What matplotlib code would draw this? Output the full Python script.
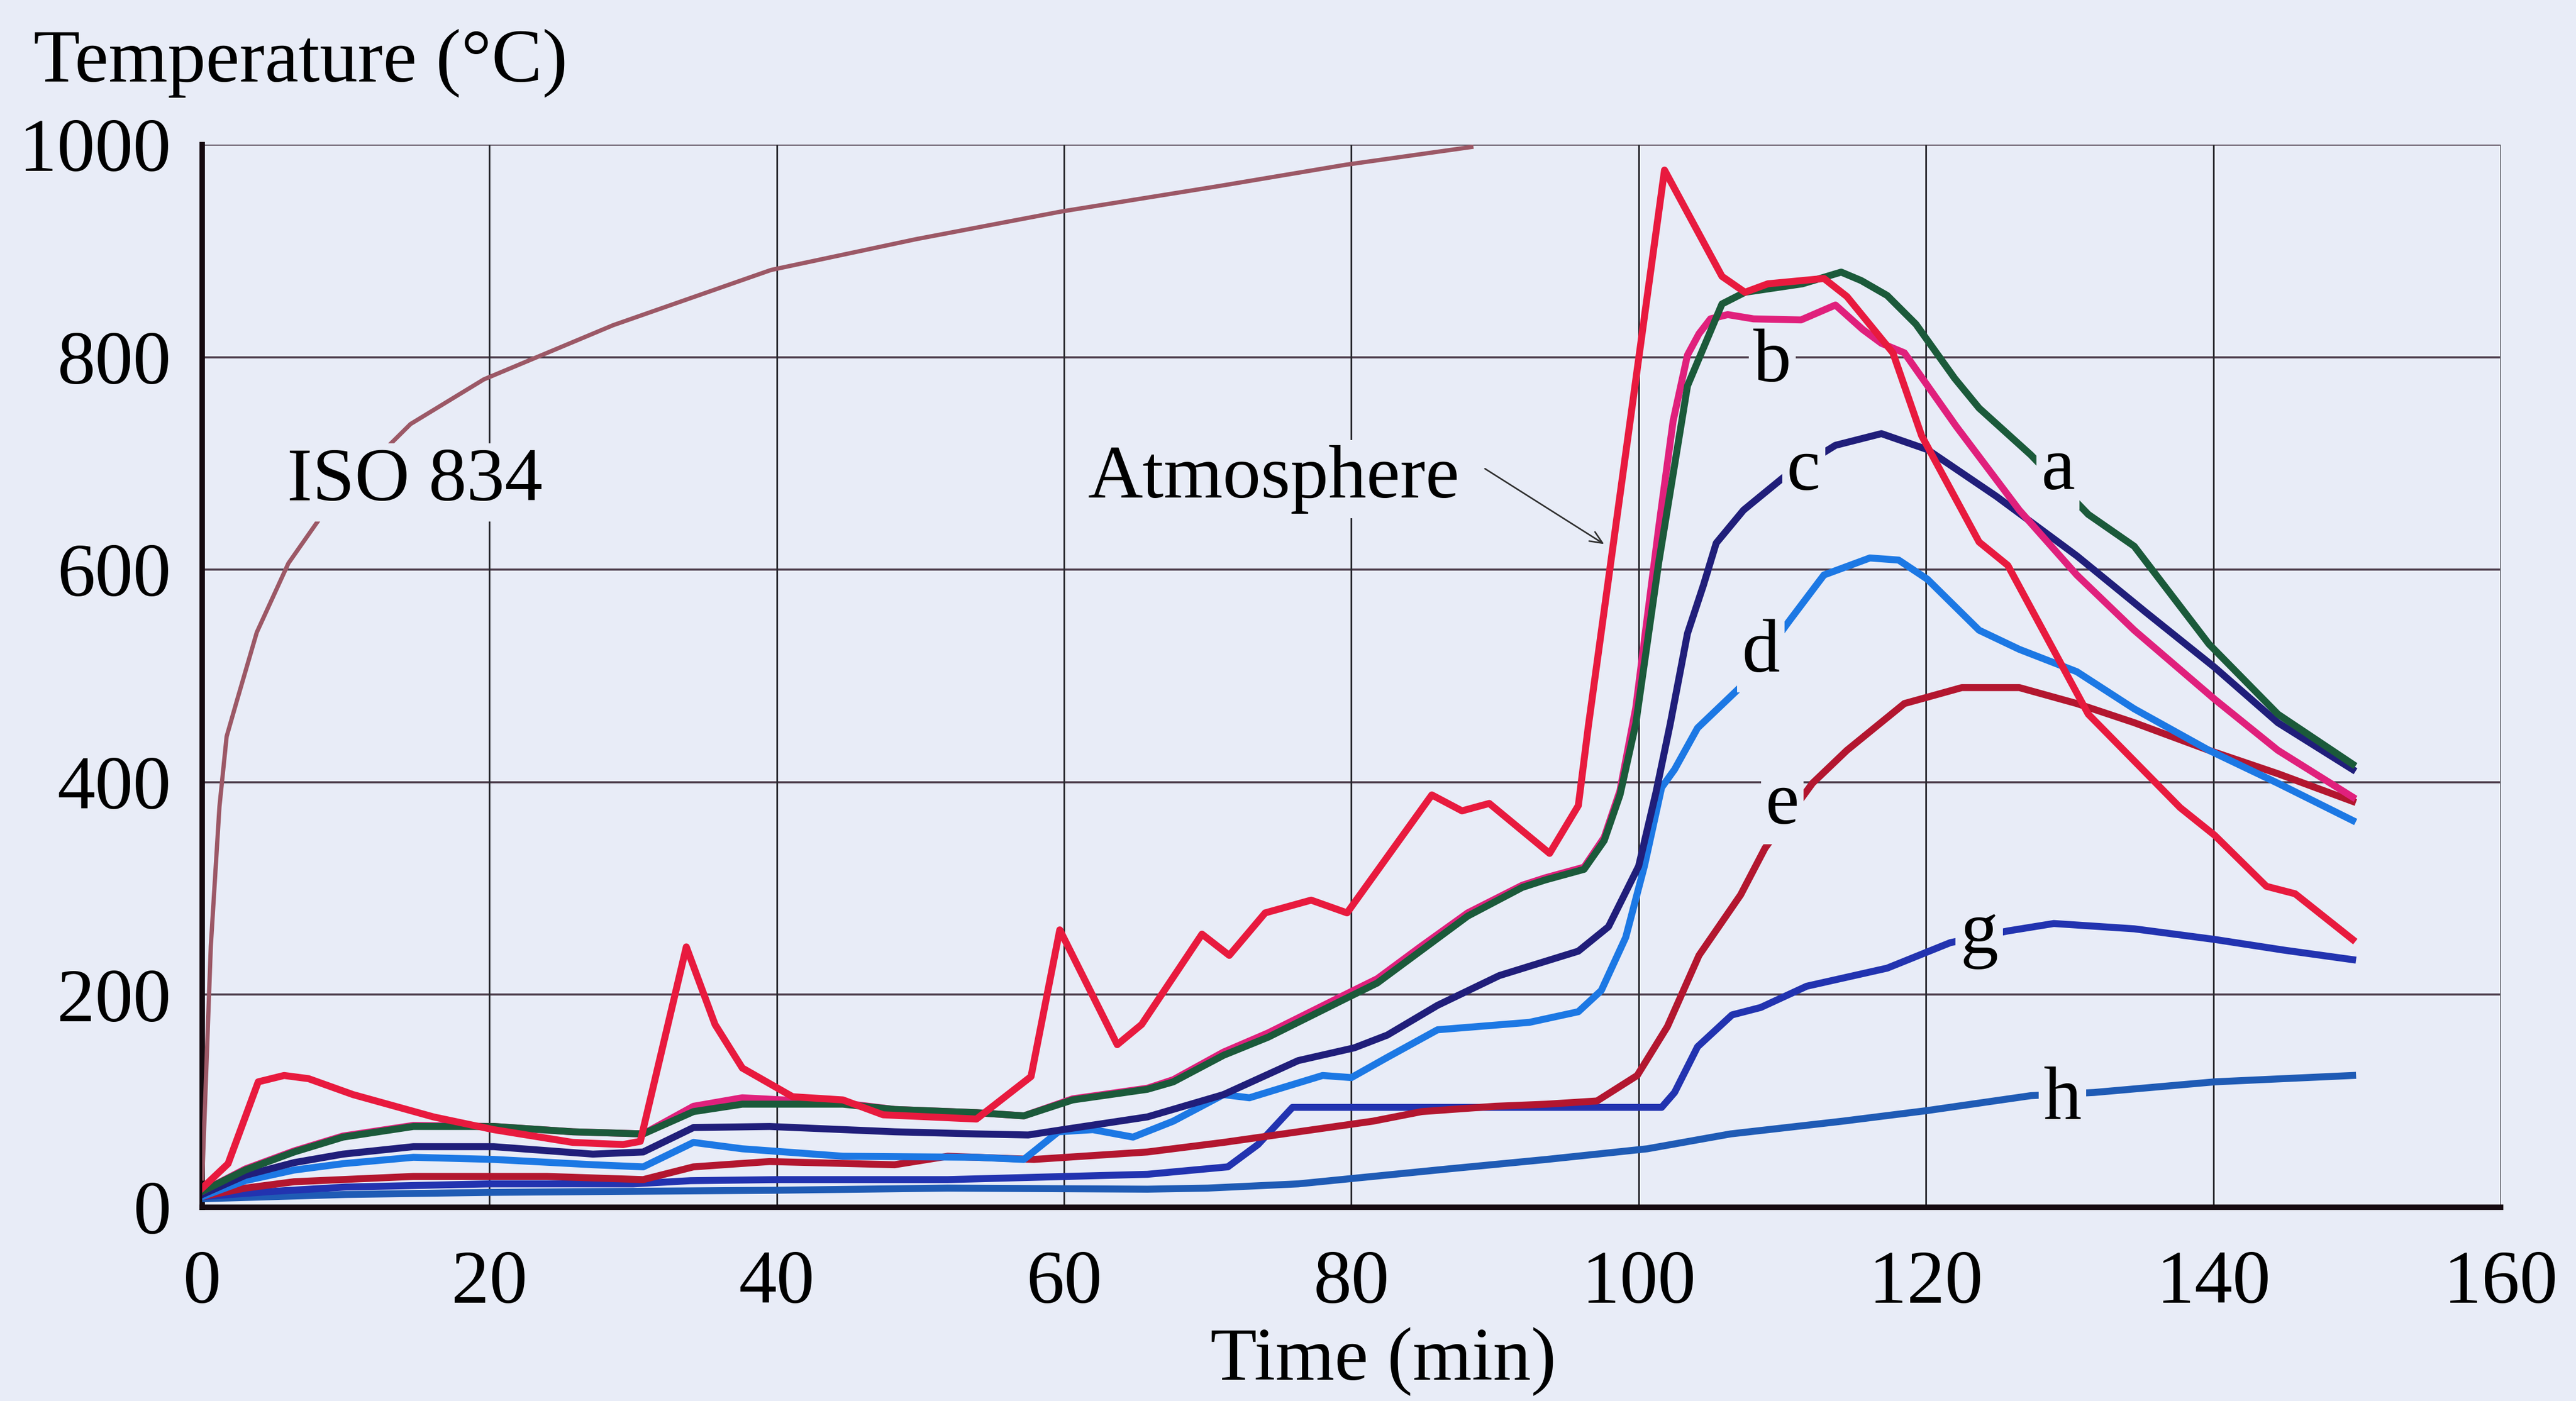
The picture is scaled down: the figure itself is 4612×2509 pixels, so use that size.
import matplotlib
matplotlib.use("Agg")
import matplotlib.pyplot as plt

# ---------------- data ----------------
iso_t = [0, 0.6, 1.2, 1.7, 2.4, 3.8, 6, 8.9, 14.5, 19.6, 28.6, 39.6, 49.7, 59.8, 70.8, 79.6, 88.5]
iso_T = [25, 246, 377, 443, 476, 541, 606, 662, 737, 779, 830, 882, 911, 937, 961, 981, 998]

atm_t = [0, 1.8, 3.9, 5.7, 7.4, 10.5, 16.1, 20.3, 25.8, 29.3, 30.5, 33.7, 35.7, 37.6, 41.1, 44.6,
         47.4, 53.9, 57.7, 59.7, 63.7, 65.4, 69.6, 71.5, 74, 77.2, 79.7, 85.6, 87.7, 89.6, 93.8,
         95.8, 96.5, 101.8, 105.8, 107.4, 109, 112.9, 114.5, 117.7, 119.7, 123.7, 125.7, 131.3,
         134.5, 137.7, 140.1, 143.7, 145.7, 149.7]
atm_T = [18, 41, 118, 124, 121, 106, 85, 73, 61, 59, 62, 245, 172, 131, 104, 101,
         87, 83, 123, 261, 153, 172, 257, 237, 277, 289, 277, 388, 373, 380, 333,
         378, 453, 976, 876, 861, 869, 874, 857, 804, 726, 626, 604, 464,
         420, 376, 350, 302, 295, 252]

a_t = [0, 3, 6.4, 9.8, 14.7, 20.3, 25.8, 30.7, 34.2, 37.6, 44.6, 48.2, 53.9, 57.2, 60.6, 65.8,
       67.6, 71.1, 74.2, 79.7, 81.8, 84.8, 88.1, 91.9, 93.5, 96.2, 97.6, 98.7, 99.8, 101.4,
       103.4, 105.8, 107.4, 111.4, 114.1, 115.5, 117.3, 119.3, 122, 123.7, 127.3, 131.3,
       134.5, 139.7, 144.5, 149.7]
a_T = [15, 35, 52, 66, 76, 76, 71, 69, 90, 97, 97, 92, 89, 86, 101, 111,
       118, 143, 160, 197, 211, 241, 274, 301, 308, 318, 345, 388, 455, 607,
       773, 850, 861, 869, 880, 872, 858, 831, 780, 752, 708, 652,
       622, 530, 464, 417]

b_t = [0, 3, 6.4, 9.8, 14.7, 20.3, 25.8, 30.7, 34.2, 37.6, 44.6, 48.2, 53.9, 57.2, 60.6, 65.8,
       67.6, 71.1, 74.2, 79.7, 81.8, 84.8, 88.1, 91.9, 93.5, 96.2, 97.6, 98.7, 99.8, 101.4,
       102.4, 103.4, 104.2, 105, 106.2, 108, 111.3, 113.7, 115.6, 116.9, 118.5, 122.1,
       126.5, 130.5, 134.5, 140.1, 144.5, 149.7]
b_T = [15, 36, 53, 67, 77, 76, 71, 69, 95, 103, 98, 92, 89, 86, 102, 112,
       120, 146, 164, 201, 215, 245, 277, 303, 310, 320, 348, 392, 470, 640,
       740, 802, 822, 836, 840, 836, 835, 849, 826, 813, 804, 735,
       656, 595, 543, 478, 430, 386]

c_t = [0, 3, 6.4, 9.8, 14.7, 20.3, 27.2, 30.7, 34.2, 39.5, 48.2, 53.9, 57.5, 59.9, 65.8, 71.1,
       76.3, 80.2, 82.5, 86, 90.3, 95.8, 97.9, 100, 101.2, 102.2, 103.4, 104.5, 105.4, 107.3,
       108.2, 110.1, 113.7, 116.9, 120.1, 124.9, 130.5, 135.3, 140.1, 144.5, 149.7]
c_T = [12, 30, 42, 50, 57, 57, 50, 52, 75, 76, 71, 69, 68, 73, 85, 106,
       138, 150, 162, 190, 218, 241, 264, 321, 390, 455, 540, 585, 625, 656,
       666, 687, 717, 728, 713, 669, 613, 560, 508, 456, 412]

d_t = [0, 3, 6.4, 9.8, 14.7, 20.3, 27.2, 30.7, 34.2, 37.6, 44.6, 53.9, 57.2, 59.6, 62, 64.8,
       67.6, 71.1, 72.9, 78, 80, 82.5, 86, 92.4, 95.8, 97.4, 99.1, 100.4, 101.6, 102.5, 104.1,
       107.2, 110.5, 112.9, 116.1, 118.1, 120.1, 123.7, 126.5, 130.5, 134.5, 139.7, 144.5, 149.7]
d_T = [10, 25, 35, 41, 47, 45, 40, 38, 61, 55, 48, 47, 45, 71, 73, 66,
       81, 106, 103, 124, 122, 141, 167, 174, 184, 204, 254, 321, 395, 412, 451,
       491, 552, 595, 611, 609, 591, 543, 525, 504, 469, 430, 399, 364]

e_t = [0, 3, 6.4, 14.7, 24, 30.7, 34.2, 39.5, 48.2, 51.9, 57.9, 65.8, 71.1, 76.3, 81.5, 84.9,
       90, 93.6, 97.1, 99.9, 102, 104.2, 107.1, 108.8, 112.1, 114.5, 118.5, 122.5, 126.5,
       130.5, 134.5, 139.7, 144.5, 149.7]
e_T = [10, 18, 24, 29, 29, 26, 38, 43, 40, 48, 45, 52, 61, 71, 81, 90,
       95, 97, 100, 124, 170, 237, 294, 338, 399, 430, 474, 489, 489,
       474, 456, 430, 408, 382]

g_t = [0, 5, 10, 20, 30, 34, 40, 51.9, 65.8, 71.4, 73.5, 75.9, 86, 95, 101.6, 102.5, 104.1,
       106.5, 108.5, 111.7, 117.3, 121.7, 125.7, 128.9, 134.5, 140.1, 144.9, 149.7]
g_T = [10, 15, 19, 22, 22, 25, 26, 26, 31, 38, 59, 94, 94, 94, 94, 108, 151,
       181, 188, 208, 225, 249, 260, 267, 262, 252, 242, 233]

h_t = [0, 10, 20, 30, 40, 51.9, 65.8, 70, 76.3, 81.5, 86.7, 93.6, 100.6, 106.4, 114.2, 120.1,
       127.3, 131.7, 140.1, 149.7]
h_T = [8, 12, 14, 15, 16, 18, 17, 18, 22, 29, 36, 45, 55, 69, 81, 91,
       105, 108, 118, 124]

x_ticks = [0, 20, 40, 60, 80, 100, 120, 140, 160]
y_ticks = [0, 200, 400, 600, 800, 1000]

# ---------------- styling ----------------
BG = "#e8ecf7"
FONT = ["Liberation Serif", "DejaVu Serif"]
FS = 98
plt.rcParams["font.family"] = FONT

fig = plt.figure(figsize=(46.12, 25.09), dpi=100, facecolor=BG)
ax = fig.add_axes([0.0785, 0.1383, 0.8922, 0.7585])
ax.set_facecolor(BG)

ax.set_xlim(0, 160)
ax.set_ylim(0, 1000)
ax.set_xticks(x_ticks)
ax.set_yticks(y_ticks)
ax.tick_params(length=0, labelsize=FS, pad=40)
ax.tick_params(axis="x", pad=55)

for yv in y_ticks[1:]:
    ax.axhline(yv, color="#4a3a48", lw=2.6, zorder=1)
for xv in x_ticks[1:]:
    ax.axvline(xv, color="#2a2a30", lw=2.2, zorder=1)

for s in ["top", "right"]:
    ax.spines[s].set_visible(False)
ax.spines["left"].set_linewidth(7)
ax.spines["bottom"].set_linewidth(7)
ax.spines["left"].set_color("#150a10")
ax.spines["bottom"].set_color("#150a10")

LW = 9.0
ax.plot(iso_t, iso_T, color="#9c5866", lw=5.5, zorder=3, solid_capstyle="butt")
ax.plot(h_t, h_T, color="#1f5bb5", lw=LW, zorder=3)
ax.plot(g_t, g_T, color="#2233b0", lw=LW, zorder=3)
ax.plot(e_t, e_T, color="#b3162f", lw=LW, zorder=3)
ax.plot(d_t, d_T, color="#1c78e4", lw=LW, zorder=3)
ax.plot(c_t, c_T, color="#201e7a", lw=LW, zorder=3)
ax.plot(b_t, b_T, color="#e0207c", lw=LW, zorder=3)
ax.plot(a_t, a_T, color="#1b5a3a", lw=LW, zorder=4)
ax.plot(atm_t, atm_T, color="#e81a3e", lw=LW, zorder=5)

box = dict(facecolor=BG, edgecolor="none", pad=6)
labels = [("b", 109.3, 777), ("c", 111.5, 675), ("a", 129.2, 676), ("d", 108.5, 504),
          ("e", 110.0, 361), ("g", 123.7, 239), ("h", 129.5, 83)]
for txt, xv, yv in labels:
    ax.text(xv, yv, txt, fontsize=FS, ha="center", va="baseline", bbox=box, zorder=6)

ax.text(14.8, 665, "ISO 834", fontsize=FS, ha="center", va="baseline", bbox=box, zorder=6)
ax.text(74.6, 668, "Atmosphere", fontsize=FS, ha="center", va="baseline", bbox=box, zorder=6)
ax.annotate("", xy=(97.6, 624), xytext=(89.3, 695),
            arrowprops=dict(arrowstyle="->,head_length=1.6,head_width=0.7", lw=2.0,
                            color="#303030", shrinkA=0, shrinkB=0), zorder=6)

fig.text(0.537, 0.028, "Time (min)", fontsize=FS, ha="center", va="center")
fig.text(0.013, 0.955, "Temperature (°C)", fontsize=FS, ha="left", va="center")

fig.savefig("out.png", dpi=100, facecolor=BG)
